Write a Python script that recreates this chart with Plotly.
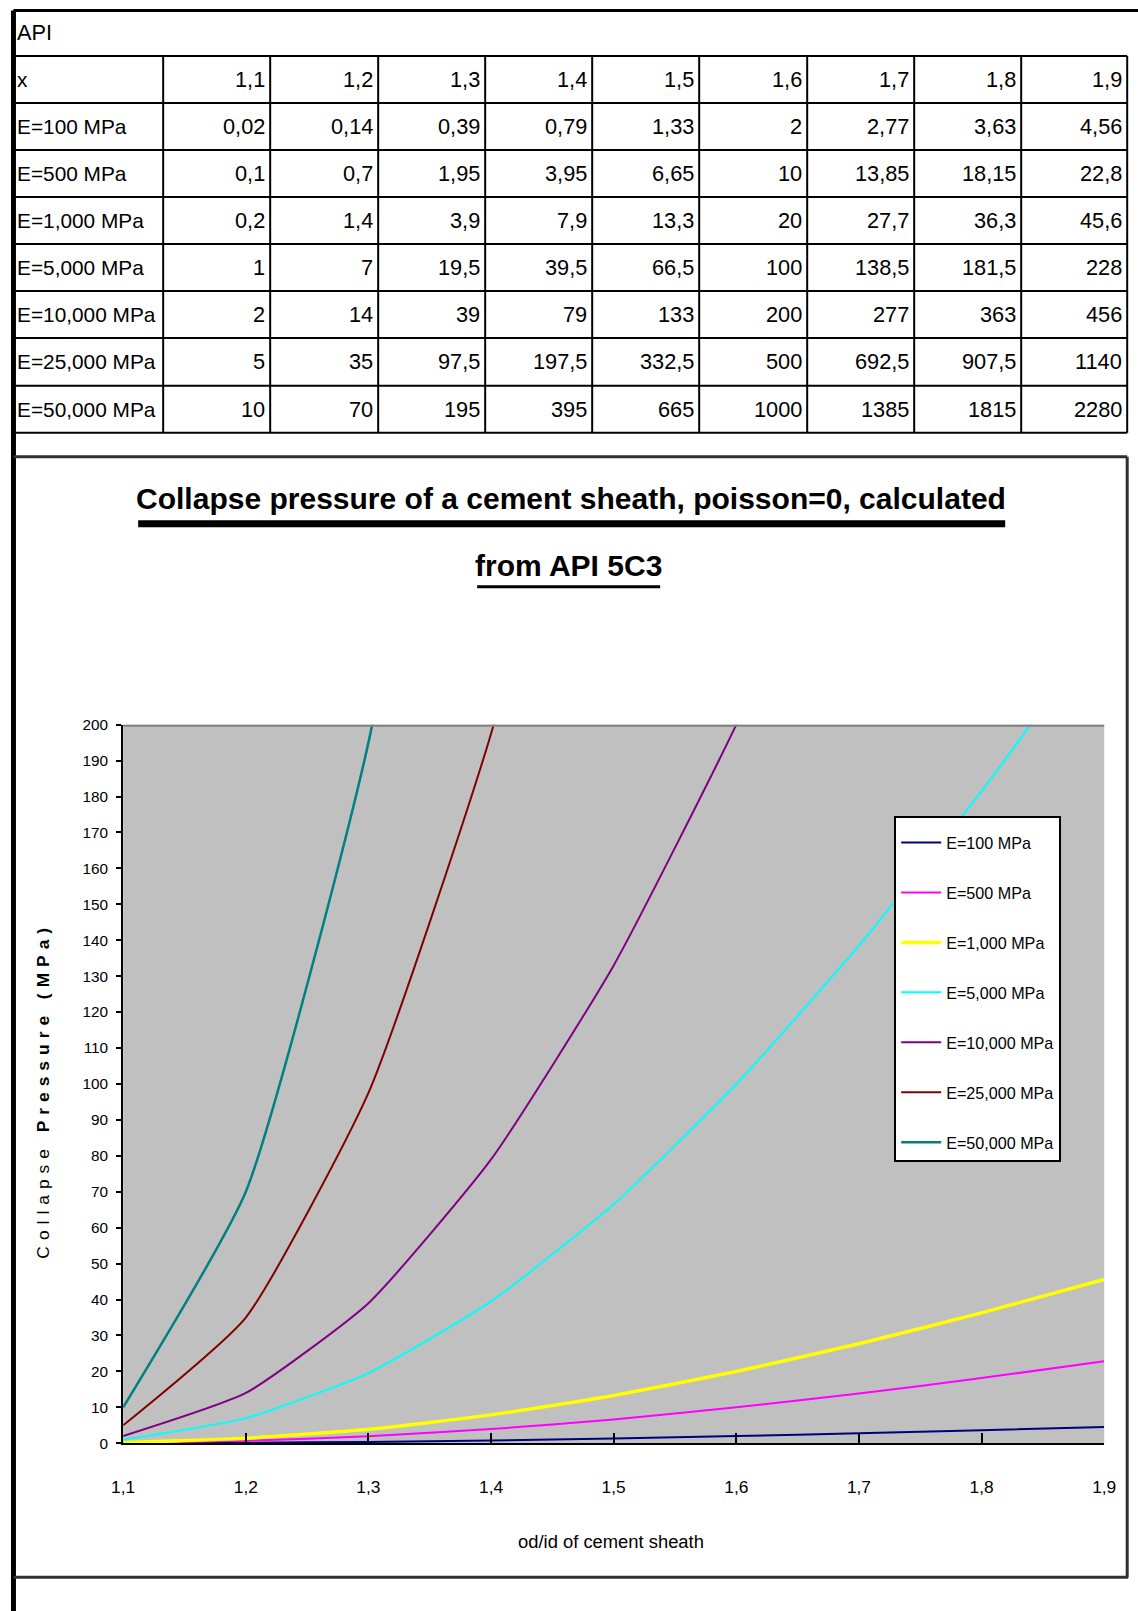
import plotly.graph_objects as go

# ---- data -------------------------------------------------------------
x_ratio = [1.1, 1.2, 1.3, 1.4, 1.5, 1.6, 1.7, 1.8, 1.9]
series_names = ["E=100 MPa", "E=500 MPa", "E=1,000 MPa", "E=5,000 MPa",
                "E=10,000 MPa", "E=25,000 MPa", "E=50,000 MPa"]
p_e100 = [0.02, 0.14, 0.39, 0.79, 1.33, 2, 2.77, 3.63, 4.56]
p_e500 = [0.1, 0.7, 1.95, 3.95, 6.65, 10, 13.85, 18.15, 22.8]
p_e1000 = [0.2, 1.4, 3.9, 7.9, 13.3, 20, 27.7, 36.3, 45.6]
p_e5000 = [1, 7, 19.5, 39.5, 66.5, 100, 138.5, 181.5, 228]
p_e10000 = [2, 14, 39, 79, 133, 200, 277, 363, 456]
p_e25000 = [5, 35, 97.5, 197.5, 332.5, 500, 692.5, 907.5, 1140]
p_e50000 = [10, 70, 195, 395, 665, 1000, 1385, 1815, 2280]
table_caption = "API"
x_row_label = "x"
chart_title_1 = "Collapse pressure of a cement sheath, poisson=0, calculated"
chart_title_2 = "from API 5C3"
x_title = "od/id of cement sheath"

series_values = [p_e100, p_e500, p_e1000, p_e5000, p_e10000, p_e25000, p_e50000]

# ---- styling ----------------------------------------------------------
# Layout positions below are given in sheet pixels; sx/sy/x0 convert them to
# the figure's own pixel frame (page margin included).
SX, SY, X0, BODY = 0.979, 0.990, 4.0, 8
W, H = 1144, 1611
FONT = "Liberation Sans, Arial, sans-serif"
line_colors = ["#000080", "#FF00FF", "#FFFF00", "#00FFFF", "#800080", "#800000", "#008080"]
line_widths = [2, 2, 3.5, 2, 2, 2, 2.5]

PL, PR, PT, PB = 123, 1104, 724, 1443
col_edges = [10, 163, 270, 378, 485, 592, 699, 807, 914, 1021, 1127]
row_edges = [55, 102, 149, 196, 243, 290, 337, 385, 432]


def px_fig(px):
    return (px - X0) / SX - BODY


def py_fig(py):
    return py / SY - BODY


def fx(px):
    return max(px_fig(px), 1.5) / W


def fy(py):
    return 1 - max(py_fig(py), 1.5) / H


def fs(size):
    # font size so the drawn text keeps its sheet size
    return size / SX


def fmt(v):
    return f"{v:g}".replace(".", ",")


fig = go.Figure()

for name, vals, col, lw in zip(series_names, series_values, line_colors, line_widths):
    fig.add_trace(go.Scatter(
        x=x_ratio, y=vals, name=name, mode="lines",
        line=dict(color=col, width=lw, shape="spline", smoothing=0.5),
        legendgroup=name,
    ))

shapes = []
annotations = []


def hline(y, x0, x1, color="black", width=2):
    shapes.append(dict(type="line", xref="paper", yref="paper",
                       x0=fx(x0), x1=fx(x1), y0=fy(y), y1=fy(y),
                       line=dict(color=color, width=width)))


def vline(x, y0, y1, color="black", width=2):
    shapes.append(dict(type="line", xref="paper", yref="paper",
                       x0=fx(x), x1=fx(x), y0=fy(y0), y1=fy(y1),
                       line=dict(color=color, width=width)))


# sheet frame
hline(5, 8, 1160, width=3)
vline(9, 3, 1640, width=5)

# table grid
for ye in row_edges:
    hline(ye, col_edges[0], col_edges[-1])
for xe in col_edges[1:]:
    vline(xe, row_edges[0], row_edges[-1])

cell_font = dict(family=FONT, size=fs(21.3), color="black")
label_font = dict(family=FONT, size=fs(20.4), color="black")
annotations.append(dict(xref="paper", yref="paper", x=fx(15), y=fy(31),
                        text=table_caption, showarrow=False, xanchor="left",
                        yanchor="middle", font=cell_font))

table_rows = [(x_row_label, x_ratio)] + list(zip(series_names, series_values))
for r, (label, vals) in enumerate(table_rows):
    yc = (row_edges[r] + row_edges[r + 1]) / 2
    annotations.append(dict(xref="paper", yref="paper", x=fx(15), y=fy(yc),
                            text=label, showarrow=False, xanchor="left",
                            yanchor="middle", font=label_font))
    for c, v in enumerate(vals):
        annotations.append(dict(xref="paper", yref="paper",
                                x=fx(col_edges[c + 2] - 3), y=fy(yc),
                                text=fmt(v), showarrow=False, xanchor="right",
                                yanchor="middle", font=cell_font))

# chart object frame
hline(456, 10, 1127, color="#303030", width=3)
vline(1127, 456, 1577, color="#303030", width=3)
hline(1577, 10, 1128, color="#303030", width=3)

# chart title with underlines
title_font = dict(family=FONT, size=fs(29.4), color="black", weight="bold")
annotations.append(dict(xref="paper", yref="paper", x=fx(571), y=fy(498),
                        text=chart_title_1, showarrow=False, xanchor="center",
                        yanchor="middle", font=title_font))
annotations.append(dict(xref="paper", yref="paper", x=fx(568), y=fy(565),
                        text=chart_title_2, showarrow=False, xanchor="center",
                        yanchor="middle", font=title_font))
hline(523, 138, 1005, width=7)
hline(586, 477, 660, width=3)

# top border of the plot area at the 200 level
shapes.append(dict(type="line", xref="x domain", yref="y", x0=0, x1=1, y0=200, y1=200,
                   line=dict(color="#808080", width=4), layer="above"))

# axis titles
annotations.append(dict(xref="paper", yref="paper", x=fx(43), y=fy(1090),
                        text='<span style="letter-spacing:6px">Collapse <b>Pressure (MPa)</b></span>',
                        textangle=-90, showarrow=False, xanchor="center", yanchor="middle",
                        font=dict(family=FONT, size=fs(17), color="black")))
annotations.append(dict(xref="paper", yref="paper", x=fx(611), y=fy(1541),
                        text=x_title, showarrow=False, xanchor="center", yanchor="middle",
                        font=dict(family=FONT, size=fs(18), color="black")))

fig.update_layout(
    width=W, height=H,
    margin=dict(l=0, r=0, t=0, b=0),
    paper_bgcolor="white",
    plot_bgcolor="#C0C0C0",
    separators=", ",
    showlegend=True,
    legend=dict(
        x=fx(894), y=fy(815), xanchor="left", yanchor="top",
        bgcolor="white", bordercolor="black", borderwidth=2,
        font=dict(family=FONT, size=fs(15.8), color="black"),
        title=dict(text=" ", font=dict(size=6)),
        traceorder="grouped", tracegroupgap=26,
        itemwidth=40,
    ),
    xaxis=dict(
        domain=[fx(PL), fx(PR)], range=[1.1, 1.9], dtick=0.1, tick0=1.1,
        tickformat=".1f", showgrid=False, zeroline=False,
        showline=True, linecolor="black", linewidth=2,
        ticks="inside", ticklen=10, tickwidth=2, tickcolor="black",
        ticklabelstandoff=27,
        tickfont=dict(family=FONT, size=fs(17), color="black"),
    ),
    yaxis=dict(
        domain=[fy(PB), fy(PT)], range=[0, 200], dtick=10, tick0=0,
        showgrid=False, zeroline=False,
        showline=True, linecolor="black", linewidth=2,
        ticks="outside", ticklen=5, tickwidth=2, tickcolor="black",
        ticklabelstandoff=5,
        tickfont=dict(family=FONT, size=fs(15), color="black"),
    ),
    shapes=shapes,
    annotations=annotations,
)

fig.write_html("out.html")
